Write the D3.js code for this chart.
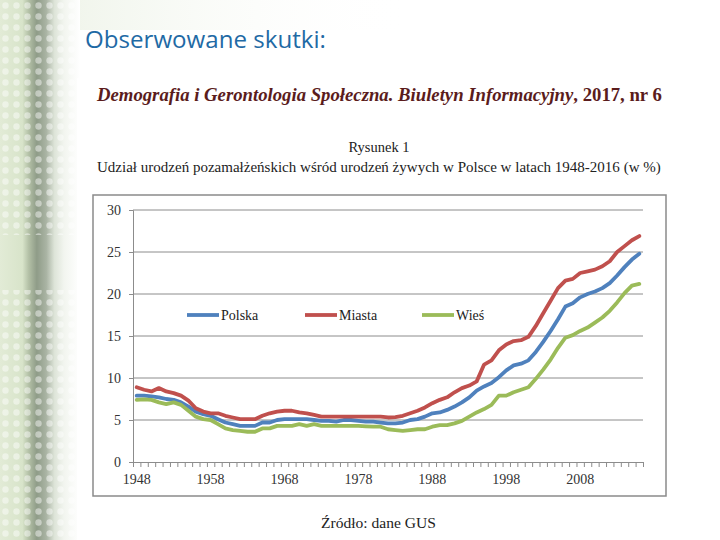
<!DOCTYPE html>
<html><head><meta charset="utf-8">
<script src="https://cdn.jsdelivr.net/npm/d3@7"></script>
<style>html,body{margin:0;padding:0;background:#fff;}svg{display:block;}</style>
</head><body>
<svg id="c" width="720" height="540"></svg>
<script>
const years = [1948,1949,1950,1951,1952,1953,1954,1955,1956,1957,1958,1959,1960,1961,1962,1963,1964,1965,1966,1967,1968,1969,1970,1971,1972,1973,1974,1975,1976,1977,1978,1979,1980,1981,1982,1983,1984,1985,1986,1987,1988,1989,1990,1991,1992,1993,1994,1995,1996,1997,1998,1999,2000,2001,2002,2003,2004,2005,2006,2007,2008,2009,2010,2011,2012,2013,2014,2015,2016];
const polska = [7.9,7.9,7.8,7.7,7.5,7.4,7.1,6.6,6.0,5.7,5.5,5.1,4.7,4.5,4.3,4.3,4.3,4.7,4.7,5.0,5.1,5.1,5.1,5.1,5.0,4.9,4.9,4.8,5.0,5.0,4.9,4.8,4.8,4.7,4.6,4.6,4.7,5.0,5.1,5.4,5.8,5.9,6.2,6.6,7.1,7.7,8.5,9.0,9.4,10.1,10.9,11.5,11.7,12.1,13.1,14.3,15.6,17.0,18.5,18.9,19.6,20.0,20.3,20.7,21.3,22.2,23.2,24.1,24.8];
const miasta = [8.9,8.6,8.4,8.8,8.4,8.2,7.9,7.3,6.4,6.0,5.8,5.8,5.5,5.3,5.1,5.1,5.1,5.5,5.8,6.0,6.1,6.1,5.9,5.8,5.6,5.4,5.4,5.4,5.4,5.4,5.4,5.4,5.4,5.4,5.3,5.35,5.5,5.8,6.1,6.5,7.0,7.4,7.7,8.3,8.8,9.1,9.6,11.6,12.1,13.3,14.0,14.4,14.5,14.9,16.2,17.7,19.2,20.7,21.6,21.8,22.5,22.7,22.9,23.3,23.9,25.0,25.7,26.4,26.9];
const wies = [7.4,7.45,7.4,7.1,6.9,7.1,6.8,6.1,5.4,5.1,5.0,4.5,4.0,3.8,3.7,3.6,3.6,4.0,4.0,4.3,4.3,4.3,4.5,4.3,4.5,4.3,4.3,4.3,4.3,4.3,4.3,4.25,4.2,4.2,3.9,3.8,3.7,3.8,3.9,3.9,4.2,4.4,4.4,4.6,4.9,5.4,5.9,6.3,6.8,7.9,7.9,8.3,8.6,8.9,9.9,11.0,12.2,13.6,14.8,15.1,15.6,16.0,16.6,17.2,18.0,19.0,20.1,21.0,21.2];
const seriesNames = ["Polska","Miasta","Wieś"];
const seriesColors = ["#4F81BD","#C0504D","#9BBB59"];
const yTicks = [0,5,10,15,20,25,30];
const xTickLabels = [1948,1958,1968,1978,1988,1998,2008];

const SERIF = "Liberation Serif, Times New Roman, serif";
const svg = d3.select("#c");
const defs = svg.append("defs");

// left decorative background
const g1 = defs.append("linearGradient").attr("id","bg").attr("x1","0").attr("x2","1").attr("y1","0").attr("y2","0");
[[0,"#e2ebd6"],[0.28,"#d8e4ca"],[0.36,"#b3c0a6"],[0.46,"#8f9c88"],[0.58,"#aab4a4"],[0.68,"#dde4d8"],[0.8,"#f2f5ef"],[1,"#ffffff"]]
  .forEach(s=>g1.append("stop").attr("offset",s[0]).attr("stop-color",s[1]));
const pat = defs.append("pattern").attr("id","dots").attr("width",11).attr("height",11).attr("patternUnits","userSpaceOnUse");
pat.append("circle").attr("cx",5.5).attr("cy",5.5).attr("r",3.2).attr("fill","#ffffff").attr("opacity",0.45);
svg.append("rect").attr("x",0).attr("y",0).attr("width",80).attr("height",540).attr("fill","url(#bg)");
svg.append("rect").attr("x",0).attr("y",0).attr("width",80).attr("height",235).attr("fill","url(#dots)");
svg.append("rect").attr("x",0).attr("y",290).attr("width",80).attr("height",250).attr("fill","url(#dots)");
const g2 = defs.append("linearGradient").attr("id","topfade").attr("x1","0").attr("x2","1");
g2.append("stop").attr("offset",0).attr("stop-color","#e8efe0").attr("stop-opacity",0.6);
g2.append("stop").attr("offset",1).attr("stop-color","#ffffff").attr("stop-opacity",0);
svg.append("rect").attr("x",80).attr("y",0).attr("width",330).attr("height",30).attr("fill","url(#topfade)");

// white page
svg.append("rect").attr("x",77).attr("y",78).attr("width",643).attr("height",462).attr("fill","#fff");

function fitText(sel, target){
  const w = sel.node().getComputedTextLength();
  const fs = parseFloat(sel.attr("font-size"));
  sel.attr("font-size", fs*target/w);
}

// slide title
const t0 = svg.append("text").attr("x",85).attr("y",48).attr("font-family","Open Sans, Noto Sans, sans-serif")
  .attr("font-size",21).attr("fill","#1f6aa5").text("Obserwowane skutki:");
fitText(t0, 241);

// header
const h = svg.append("text").attr("x",97).attr("y",101).attr("font-family",SERIF)
  .attr("font-size",17).attr("font-weight","bold").attr("fill","#5b1c1c");
h.append("tspan").attr("font-style","italic").text("Demografia i Gerontologia Społeczna. Biuletyn Informacyjny");
h.append("tspan").text(", 2017, nr 6");
fitText(h, 565);

svg.append("text").attr("x",379).attr("y",152).attr("text-anchor","middle")
  .attr("font-family",SERIF).attr("font-size",14.5).attr("fill","#222").text("Rysunek 1");
const sub = svg.append("text").attr("x",97).attr("y",172)
  .attr("font-family",SERIF).attr("font-size",14).attr("fill","#222")
  .text("Udział urodzeń pozamałżeńskich wśród urodzeń żywych w Polsce w latach 1948-2016 (w %)");
fitText(sub, 564);

const src = svg.append("text").attr("x",321).attr("y",528)
  .attr("font-family",SERIF).attr("font-size",14).attr("fill","#222").text("Źródło: dane GUS");
fitText(src, 115);

// chart frame
svg.append("rect").attr("x",93).attr("y",195).attr("width",573).attr("height",301)
  .attr("fill","#fff").attr("stroke","#8a8a8a").attr("stroke-width",1.5);

const pLeft = 133, pRight = 643, pTop = 210, pBottom = 462;
const x = d3.scaleBand().domain(years).range([pLeft,pRight]);
const xc = d => x(d) + x.bandwidth()/2;
const y = d3.scaleLinear().domain([0,30]).range([pBottom,pTop]);
const xi = d3.scaleLinear().domain([0,years.length]).range([pLeft,pRight]);

// gridlines
svg.append("g").selectAll("line").data(yTicks.filter(v=>v>0)).join("line")
  .attr("x1",pLeft).attr("x2",pRight).attr("y1",d=>y(d)).attr("y2",d=>y(d))
  .attr("stroke","#8c8c8c").attr("stroke-width",1);

// y axis
const ya = svg.append("g").attr("transform",`translate(${pLeft},0)`)
  .call(d3.axisLeft(y).tickValues(yTicks).tickSize(4).tickPadding(8).tickFormat(d3.format("d")));
ya.attr("font-family",SERIF);
ya.select(".domain").attr("stroke","#8c8c8c");
ya.selectAll(".tick line").attr("stroke","#8c8c8c");
ya.selectAll("text").attr("font-family",SERIF).attr("font-size",14).attr("fill","#333");

// x axis tick marks at category boundaries
const xa = svg.append("g").attr("transform",`translate(0,${pBottom})`)
  .call(d3.axisBottom(xi).tickValues(d3.range(years.length+1)).tickSize(5).tickFormat(""));
xa.select(".domain").attr("stroke","#8c8c8c");
xa.selectAll(".tick line").attr("stroke","#8c8c8c");
// x labels
const xl = svg.append("g").attr("transform",`translate(0,${pBottom})`)
  .call(d3.axisBottom(x).tickValues(xTickLabels).tickSize(0).tickPadding(12));
xl.attr("font-family",SERIF);
xl.select(".domain").remove();
xl.selectAll("text").attr("font-family",SERIF).attr("font-size",14).attr("fill","#333");

// lines
const allSeries = [polska, miasta, wies];
const line = d3.line().x((d,i)=>xc(years[i])).y(d=>y(d)).curve(d3.curveLinear);
allSeries.forEach((s,k)=>{
  svg.append("path").datum(s).attr("d",line).attr("fill","none")
    .attr("stroke",seriesColors[k]).attr("stroke-width",3.8)
    .attr("stroke-linejoin","round").attr("stroke-linecap","round");
});

// legend
const legX = [187,305,422];
const lg = svg.append("g");
seriesNames.forEach((n,k)=>{
  lg.append("line").attr("x1",legX[k]).attr("x2",legX[k]+32).attr("y1",315).attr("y2",315)
    .attr("stroke",seriesColors[k]).attr("stroke-width",3.8);
  lg.append("text").attr("x",legX[k]+34).attr("y",320).attr("font-family",SERIF)
    .attr("font-size",14).attr("fill","#222").text(n);
});
</script>
</body></html>
